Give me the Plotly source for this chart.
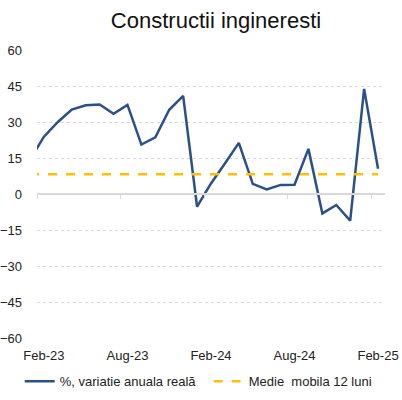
import plotly.graph_objects as go

# Data: month labels (Jan-23 point lies just outside the visible range and is clipped)
months = ["Jan-23", "Feb-23", "Mar-23", "Apr-23", "May-23", "Jun-23", "Jul-23", "Aug-23",
          "Sep-23", "Oct-23", "Nov-23", "Dec-23", "Jan-24", "Feb-24", "Mar-24", "Apr-24",
          "May-24", "Jun-24", "Jul-24", "Aug-24", "Sep-24", "Oct-24", "Nov-24", "Dec-24",
          "Jan-25", "Feb-25"]
variatie = [14.3, 23.9, 30.0, 35.2, 37.0, 37.3, 33.4, 37.1, 20.6, 23.6, 35.1, 40.9,
            -5.3, 4.4, 12.7, 21.3, 4.2, 1.9, 3.8, 3.9, 18.8, -8.1, -4.6, -11.1, 43.8, 10.5]
medie = [8.2] * len(months)
tick_labels = ["Feb-23", "Aug-23", "Feb-24", "Aug-24", "Feb-25"]
y_ticks = [-60, -45, -30, -15, 0, 15, 30, 45, 60]

xi = list(range(len(months)))
label_pos = [months.index(t) for t in tick_labels]
bound_pos = [p - 0.5 for p in label_pos]

FONT = "Liberation Sans, Arial, sans-serif"
BLUE = "#2B5087"
GOLD = "#FFC000"
GRID = "#D9D9D9"

W, H = 402, 400
PL, PR, PT, PB = 37.3, 385.3, 50.3, 337.7  # plot-area edges in pixels

fig = go.Figure()
fig.add_trace(go.Scatter(x=xi, y=variatie, mode="lines", name="%, variatie anuala reală",
                         line=dict(color=BLUE, width=2.5), hoverinfo="skip",
                         legend="legend"))
fig.add_trace(go.Scatter(x=xi, y=medie, mode="lines", name="Medie  mobila 12 luni",
                         line=dict(color=GOLD, width=2.5, dash="dash"), xaxis="x2",
                         hoverinfo="skip", legend="legend2"))

leg_common = dict(orientation="h", xref="paper", yref="paper", xanchor="left",
                  y=(PB - 381) / (PB - PT), yanchor="middle",
                  font=dict(family=FONT, size=13, color="#222222"),
                  bgcolor="rgba(0,0,0,0)", itemwidth=30)

fig.update_layout(
    width=W, height=H,
    margin=dict(l=PL, r=W - PR, t=PT, b=H - PB, pad=0, autoexpand=False),
    paper_bgcolor="white", plot_bgcolor="white",
    font=dict(family=FONT, size=13, color="#222222"),
    title=dict(text="Constructii ingineresti", x=216 / W, xanchor="center",
               y=1 - 20 / H, yanchor="middle",
               font=dict(family=FONT, size=22, color="#111111")),
    showlegend=True,
    legend=dict(x=(20 - PL) / (PR - PL), **leg_common),
    legend2=dict(x=(209 - PL) / (PR - PL), **leg_common),
    xaxis=dict(range=[0.5, 25.5], tickmode="array", tickvals=label_pos,
               ticktext=tick_labels, ticks="", showgrid=False, zeroline=False,
               showline=False, ticklabelstandoff=8, fixedrange=True, automargin=False),
    xaxis2=dict(range=[0.5, 25.5], overlaying="x", anchor="free", position=0.5,
                side="bottom", tickmode="array", tickvals=bound_pos,
                showticklabels=False, ticks="outside", ticklen=4, tickwidth=1,
                tickcolor=GRID, showline=True, linecolor=GRID, linewidth=1.5,
                showgrid=False, zeroline=False, matches="x", automargin=False),
    yaxis=dict(range=[-60, 60], tickmode="array", tickvals=y_ticks,
               showgrid=True, gridcolor=GRID, griddash="dot", gridwidth=1,
               zeroline=False, showline=False, ticks="", ticklabelstandoff=14,
               fixedrange=True, automargin=False),
)

# remove the page's default body margin so the 402x400 figure fills the window
fig.write_html("out.html", config={"displayModeBar": False},
               post_script="document.body.style.margin='0';")
